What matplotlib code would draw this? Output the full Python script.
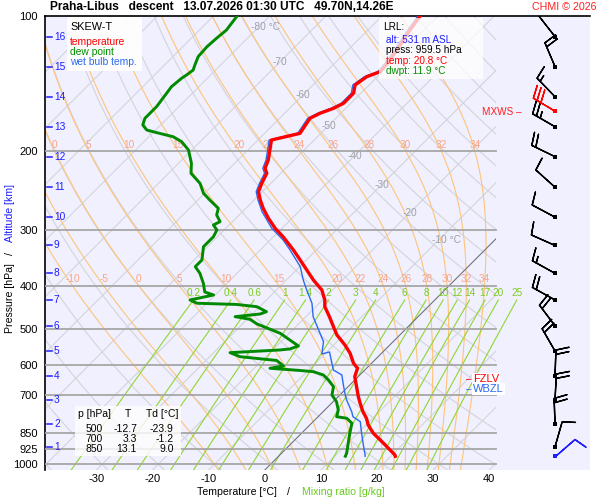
import numpy as np
import matplotlib

matplotlib.use("Agg")
import matplotlib.pyplot as plt
from matplotlib.patches import Rectangle
from matplotlib.ticker import NullLocator
from matplotlib.transforms import blended_transform_factory

plt.rcParams['font.family'] = ['Liberation Sans', 'DejaVu Sans']
plt.rcParams['axes.unicode_minus'] = False

# ---------------------------------------------------------------------
# sounding data
# ---------------------------------------------------------------------

temp_p = [100, 107.5, 116.1, 125.4, 133.1, 136.6, 142.5, 148.7, 156.6, 160.7,
          164.8, 169.1, 182.7, 189.1, 199, 209.5, 218.6, 224.3, 236.2, 246.6,
          257.3, 268.5, 282.6, 297.6, 310.7, 332.6, 350.2, 388.0, 408.5, 430.0,
          445.1, 468.5, 493.2, 514.7, 541.8, 565.4, 595.2, 610.7, 637.6, 671.2,
          706.6, 731.0, 763.3, 789.6, 817.2, 852.8, 897.7, 953.2, 959.5]
temp_t = [-53.2, -52.5, -51.6, -50.7, -50.4, -51.9, -52.5, -51.3, -51.3, -52.2,
          -53.7, -54.6, -53.7, -57.6, -56.1, -54.6, -53.7, -52.5, -51.6, -50.7,
          -48.9, -46.9, -44.2, -41.2, -38.3, -34.1, -31.1, -25.2, -21.9, -19.6,
          -18.4, -15.8, -13.3, -11.2, -8.0, -5.6, -3.2, -1.6, -0.6, 1.5,
          3.6, 5.1, 7.1, 8.9, 10.4, 12.8, 16.4, 20.5, 20.8]

dew_p = [100, 107.5, 112.1, 117.1, 123.2, 128.6, 132.0, 135.4, 137.7, 143.8,
         148.7, 159.3, 163.5, 169.1, 175.0, 179.6, 182.1, 185.9, 190.7, 199.0,
         213.1, 224.3, 236.2, 248.6, 257.3, 268.5, 277.9, 287.6, 292.5, 300.1,
         310.7, 327.0, 350.2, 362.4, 374.9, 394.7, 412.7, 419.1, 430.0, 437.3,
         440.0, 445.1, 456.7, 462.1, 468.5, 474.8, 486.4, 510.3, 528.1, 544.6,
         553.1, 555.9, 563.6, 575.4, 586.7, 603.5, 610.7, 617.6, 621.4, 632.1,
         648.5, 671.2, 700.5, 725.0, 756.6, 783.0, 789.6, 810.1, 852.8, 897.7,
         945.0, 959.5]
dew_t = [-85.8, -85.2, -85.5, -85.7, -85.5, -84.6, -84.0, -84.3, -84.6, -84.9,
         -84.6, -84.0, -84.0, -84.0, -83.2, -81.6, -79.3, -75.7, -73.3, -70.6,
         -67.7, -66.0, -62.6, -60.2, -57.9, -54.9, -54.0, -52.2, -52.8, -51.3,
         -50.7, -50.7, -48.6, -48.6, -46.6, -44.2, -42.4, -40.3, -43.6, -41.8,
         -34.5, -30.5, -27.9, -28.6, -32.6, -29.5, -27.4, -21.6, -18.7, -16.1,
         -17.1, -18.7, -27.1, -24.6, -17.4, -15.2, -17.2, -11.5, -8.9, -6.5,
         -4.7, -2.6, -1.4, 0.6, 2.4, 3.3, 5.4, 7.2, 8.6, 10.1,
         11.6, 11.9]

wb_p = [100, 107.5, 116.1, 125.4, 133.1, 136.6, 142.5, 148.7, 156.6, 160.7,
        164.8, 169.1, 182.7, 189.1, 199, 209.5, 218.6, 224.3, 236.2, 246.6,
        257.3, 273.2, 297.6, 316.0, 332.6, 362.4, 388.0, 408.5, 437.3, 468.5,
        489.0, 532.7, 567.4, 561.6, 616.1, 632.1, 659.6, 694.4, 718.7, 763.3,
        783.0, 803.4, 852.8, 905.6, 953.2, 959.5]
wb_t = [-53.6, -52.9, -52.0, -51.1, -50.8, -52.3, -52.9, -51.7, -51.7, -52.6,
        -54.1, -55.0, -54.1, -58.0, -56.5, -55.0, -54.1, -52.9, -52.0, -51.1,
        -49.3, -46.5, -41.8, -37.7, -34.7, -29.9, -27.0, -24.6, -21.3, -18.7,
        -16.6, -12.4, -10.5, -9.5, -5.6, -3.2, -1.5, 0.6, 2.1, 5.1,
        6.2, 8.4, 10.7, 13.1, 15.2, 15.4]

# altitude marks (km) and the pressure where they sit
alt_km = [1, 2, 3, 4, 5, 6, 7, 8, 9, 10, 11, 12, 13, 14, 15, 16]
alt_p = [914, 814, 718, 635, 559, 491, 430, 375, 325, 281, 241, 206,
         176.6, 151.4, 129.7, 111.2]

# winds at the altitude marks (deg, kt)
wind_dir = [16, 358, 3, 2, 330, 323, 299, 299, 294, 298, 312, 296, 300, 316, 337, 322]
wind_spd = [10, 20, 20, 20, 20, 20, 20, 15, 10, 10, 10, 20, 25, 15, 20, 10]
sfc_p, sfc_dir, sfc_spd = 959.5, 49, 10
mxws_p, mxws_dir, mxws_spd = 162.9, 301, 30

fzlv_p = 645.6
wbzl_p = 679.0

table_p = [500, 700, 850]
table_t = [-12.7, 3.3, 13.1]
table_td = [-23.9, -1.2, 9.0]

# diagram reference lines
p_lines = [200, 300, 400, 500, 600, 700, 850, 925, 1000]
p_labels = [100, 200, 300, 400, 500, 600, 700, 850, 925, 1000]
t_ticks = [-30, -20, -10, 0, 10, 20, 30, 40]
isotherms = list(range(-110, 50, 10))
dry_theta = list(range(-40, 260, 10))
moist_thw = [-10, -5, 0, 5, 10, 15, 20, 22, 24, 26, 28, 30, 32, 34]
mix_ratio = [0.2, 0.4, 0.6, 1, 1.4, 2, 3, 4, 6, 8, 10, 12, 14, 17, 20, 25]
iso_label_t = [-80, -70, -60, -50, -40, -30, -20, -10]
iso_label_p = [106.0, 126.7, 150.0, 175.9, 205.2, 238.2, 275.1, 316.0]

# ---------------------------------------------------------------------
# skew-T geometry
# ---------------------------------------------------------------------

P_BOT = 1029.8
P_TOP = 100.0
SKEW = 34.68
X_LEFT, X_RIGHT = -39.15, 57.93
X_CLIP = 41.18
BARB_X = 51.7

BLUE = '#1e1eff'
ORANGE = '#ffc47a'
ORANGE_TXT = '#f8a488'
GREEN_LN = '#90d630'
GREEN_TXT = '#7ccc1e'
GRID = '#d4d4da'


def skx(t, p):
    return np.asarray(t, float) + SKEW * np.log(P_BOT / np.asarray(p, float))


def fx(x):
    return x / 600.0


def fy(y):
    return 1.0 - y / 500.0


def moist_lapse(t, p):
    es = 6.112 * np.exp(17.67 * (t - 273.15) / (t - 273.15 + 243.5))
    rs = 0.622 * es / (p - es)
    lv = 2.501e6
    return (287.04 * t + lv * rs) / (1005.7 + lv * lv * rs * 0.622 / (287.04 * t * t))


def moist_temps(thw, levels):
    t = thw + 273.15
    out = [t]
    for p0, p1 in zip(levels[:-1], levels[1:]):
        dl = np.log(p1 / p0)
        k1 = moist_lapse(t, p0)
        k2 = moist_lapse(t + 0.5 * k1 * dl, np.sqrt(p0 * p1))
        t = t + k2 * dl
        out.append(t)
    return np.array(out) - 273.15


fig = plt.figure(figsize=(6, 5), dpi=100)
ax = fig.add_axes([fx(45), fy(470), fx(590) - fx(45), fy(16) - fy(470)])
ax.set_facecolor('#f0f0fe')
ax.set_yscale('log')
ax.set_ylim(P_BOT, P_TOP)
ax.set_xlim(X_LEFT, X_RIGHT)
for side in ['right', 'bottom']:
    ax.spines[side].set_visible(False)
ax.spines['top'].set_linewidth(1.2)
ax.spines['left'].set_linewidth(1.2)

clip = Rectangle((0, 0), (496 - 45) / 545.0, 1, transform=ax.transAxes)


def clipped(lines):
    for ln in lines:
        ln.set_clip_path(clip)


pp = np.array([P_BOT, P_TOP])
for t in isotherms:
    clipped(ax.plot(skx(t, pp), pp, color=GRID, lw=0.8, zorder=1))

pg = np.geomspace(P_BOT, P_TOP, 120)
for th in dry_theta:
    tt = (th + 273.15) * (pg / 1000.0) ** 0.2857 - 273.15
    clipped(ax.plot(skx(tt, pg), pg, color=GRID, lw=0.8, zorder=1))

p_up = np.geomspace(1000, P_TOP, 250)
p_dn = np.geomspace(1000, P_BOT, 6)
for thw in moist_thw:
    t_up = moist_temps(thw, p_up)
    t_dn = moist_temps(thw, p_dn)
    pm = np.concatenate([p_dn[::-1], p_up[1:]])
    tm = np.concatenate([t_dn[::-1], t_up[1:]])
    xm = skx(tm, pm)
    clipped(ax.plot(xm, pm, color=ORANGE, lw=0.8, zorder=2))
    lp = np.log(pm[::-1])
    for lev, ly in [(400, 387), (200, 194)]:
        xl = np.interp(np.log(lev), lp, xm[::-1])
        if X_LEFT + 1 < xl < X_CLIP:
            ax.text(xl, ly, f'{thw:g}', color=ORANGE_TXT, fontsize=7.2,
                    ha='center', va='center', zorder=3)

pw = np.geomspace(P_BOT, 430, 40)
for w in mix_ratio:
    e = w * pw / (622.0 + w)
    le = np.log(e / 6.112)
    td = 243.5 * le / (17.67 - le)
    xw = skx(td, pw)
    ax.plot(xw, pw, color=GREEN_LN, lw=0.8, zorder=2)
    ax.text(xw[-1], 415, f'{w:g}', color=GREEN_TXT, fontsize=7.2,
            ha='center', va='center', zorder=3)

clipped(ax.plot(skx(0, pp), pp, color='#6e6e78', lw=0.7, zorder=2))

for t, p in zip(iso_label_t, iso_label_p):
    lab = f'{t} °C' if t in (-80, -10) else f'{t}'
    ax.text(skx(t, p) - 1.25, p, lab, color='#a0a0a8', fontsize=7.3,
            ha='left', va='center', zorder=3)

for p in p_lines:
    ax.plot([X_LEFT, X_CLIP], [p, p], color='#a6a6a6', lw=1.3, zorder=3)

# profiles
ax.plot(skx(wb_t, wb_p), wb_p, color='#2a6af0', lw=1.0, zorder=5)
ax.plot(skx(dew_t, dew_p), dew_p, color='#008a00', lw=2.1, zorder=6)
ax.plot(skx(temp_t, temp_p), temp_p, color='#ff0000', lw=2.4, zorder=7)

# axes ticks
ax.set_yticks(p_labels)
ax.set_yticklabels([str(p) for p in p_labels], fontsize=8)
ax.yaxis.set_minor_locator(NullLocator())
ax.set_xticks(t_ticks)
ax.set_xticklabels([str(t) for t in t_ticks], fontsize=8)
ax.tick_params(axis='both', length=0)
ax.tick_params(axis='y', pad=5)
ax.tick_params(axis='x', pad=3)

# altitude scale
trans = blended_transform_factory(ax.transAxes, ax.transData)
for km, p in zip(alt_km, alt_p):
    ax.plot([0.0037, 0.0128], [p, p], transform=trans, color=BLUE, lw=1.1, zorder=8)
    ax.text(0.0165, p, str(km), transform=trans, color=BLUE, fontsize=7.3,
            ha='left', va='center', zorder=8)


# winds
def uv(d, s):
    r = np.deg2rad(np.asarray(d, float))
    s = np.asarray(s, float)
    return -s * np.sin(r), -s * np.cos(r)


bkw = dict(length=6.1, pivot='tip', linewidth=1.0, zorder=9,
           sizes=dict(spacing=0.17, height=0.5))
u, v = uv(wind_dir, wind_spd)
ax.barbs(np.full(len(alt_p), BARB_X), alt_p, u, v, color='black', **bkw)
u, v = uv([mxws_dir], [mxws_spd])
ax.barbs([BARB_X], [mxws_p], u, v, color='red', **bkw)
u, v = uv([sfc_dir], [sfc_spd])
ax.barbs([BARB_X], [sfc_p], u, v, color='#1e1eff', **bkw)
ax.scatter(np.full(len(alt_p), BARB_X), alt_p, marker='s', s=7, color='black',
           zorder=10, linewidths=0)
ax.scatter([BARB_X], [mxws_p], marker='s', s=7, color='red', zorder=10, linewidths=0)
ax.scatter([BARB_X], [sfc_p], marker='s', s=7, color='#1e1eff', zorder=10, linewidths=0)

# freezing / wet bulb zero levels
ax.text(35.8, fzlv_p, '\u2013', color='red', fontsize=7, ha='left', va='center', zorder=9)
ax.text(37.1, fzlv_p, 'FZLV', color='red', fontsize=8, ha='left', va='center', zorder=9,
        bbox=dict(facecolor='white', edgecolor='none', pad=0.8))
ax.text(35.8, wbzl_p, '\u2013', color='#2a6af0', fontsize=7, ha='left', va='center', zorder=9)
ax.text(37.1, wbzl_p, 'WBZL', color='#2a6af0', fontsize=8, ha='left', va='center', zorder=9,
        bbox=dict(facecolor='white', edgecolor='none', pad=0.8))


# ---------------------------------------------------------------------
# figure texts and boxes
# ---------------------------------------------------------------------

def box(x0, y0, x1, y1, alpha):
    fig.add_artist(Rectangle((fx(x0), fy(y1)), fx(x1) - fx(x0), fy(y0) - fy(y1),
                             transform=fig.transFigure, facecolor='white',
                             edgecolor='none', alpha=alpha, zorder=1))


box(67, 17, 142, 71, 0.92)
fig.text(fx(70), fy(27), 'SKEW-T', fontsize=7.8, va='center', zorder=3)
fig.text(fx(70), fy(42), 'temperature', fontsize=7.4, color='#ff0000', va='center', zorder=3)
fig.text(fx(70), fy(52), 'dew point', fontsize=7.4, color='#009000', va='center', zorder=3)
fig.text(fx(70), fy(62), 'wet bulb temp.', fontsize=7.4, color='#2a6af0', va='center', zorder=3)

box(379, 18, 483, 79, 0.75)
fig.text(fx(383), fy(27), 'LRL:', fontsize=7.2, va='center', zorder=3)
fig.text(fx(386), fy(40), 'alt: 531 m ASL', fontsize=7.2, color=BLUE, va='center', zorder=3)
fig.text(fx(386), fy(50), 'press: 959.5 hPa', fontsize=7.2, va='center', zorder=3)
fig.text(fx(386), fy(60.5), 'temp: 20.8 °C', fontsize=7.2, color='#ff0000', va='center', zorder=3)
fig.text(fx(386), fy(70.5), 'dwpt: 11.9 °C', fontsize=7.2, color='#009000', va='center', zorder=3)

box(75, 406, 181, 456, 0.8)
fig.text(fx(77.5), fy(414), 'p [hPa]', fontsize=7.5, va='center', zorder=3)
fig.text(fx(127.7), fy(414), 'T', fontsize=7.5, ha='center', va='center', zorder=3)
fig.text(fx(146.5), fy(414), 'Td [°C]', fontsize=7.5, va='center', zorder=3)
for i, (p, t, td) in enumerate(zip(table_p, table_t, table_td)):
    yy = 428.5 + 10 * i
    fig.text(fx(102.5), fy(yy), f'{p}', fontsize=7.5, ha='right', va='center', zorder=3)
    fig.text(fx(137), fy(yy), f'{t:.1f}', fontsize=7.5, ha='right', va='center', zorder=3)
    fig.text(fx(173.5), fy(yy), f'{td:.1f}', fontsize=7.5, ha='right', va='center', zorder=3)

fig.text(fx(522), fy(112), 'MXWS \u2013', fontsize=7.2, color='#ff2020', ha='right',
         va='center', zorder=3)

fig.text(fx(50), fy(7.5), 'Praha-Libus   descent   13.07.2026 01:30 UTC   49.70N,14.26E',
         fontsize=8.6, fontweight='bold', va='center')
fig.text(fx(596), fy(6.5), 'CHMI © 2026', fontsize=7.7, color='#ff2020', ha='right', va='center')

fig.text(fx(197), fy(492), 'Temperature [°C]', fontsize=7.6, ha='left', va='center')
fig.text(fx(288.5), fy(492), '/', fontsize=7.6, ha='center', va='center')
fig.text(fx(302.5), fy(492), 'Mixing ratio [g/kg]', fontsize=7.6, color='#66cc1a',
         ha='left', va='center')

fig.text(fx(10), fy(213), 'Altitude [km]', fontsize=7.6, color=BLUE, rotation=90,
         ha='center', va='center')
fig.text(fx(10), fy(254), '/', fontsize=7.6, rotation=90, ha='center', va='center')
fig.text(fx(10), fy(298), 'Pressure [hPa]', fontsize=7.6, rotation=90, ha='center', va='center')

fig.savefig('out.png', dpi=100)
